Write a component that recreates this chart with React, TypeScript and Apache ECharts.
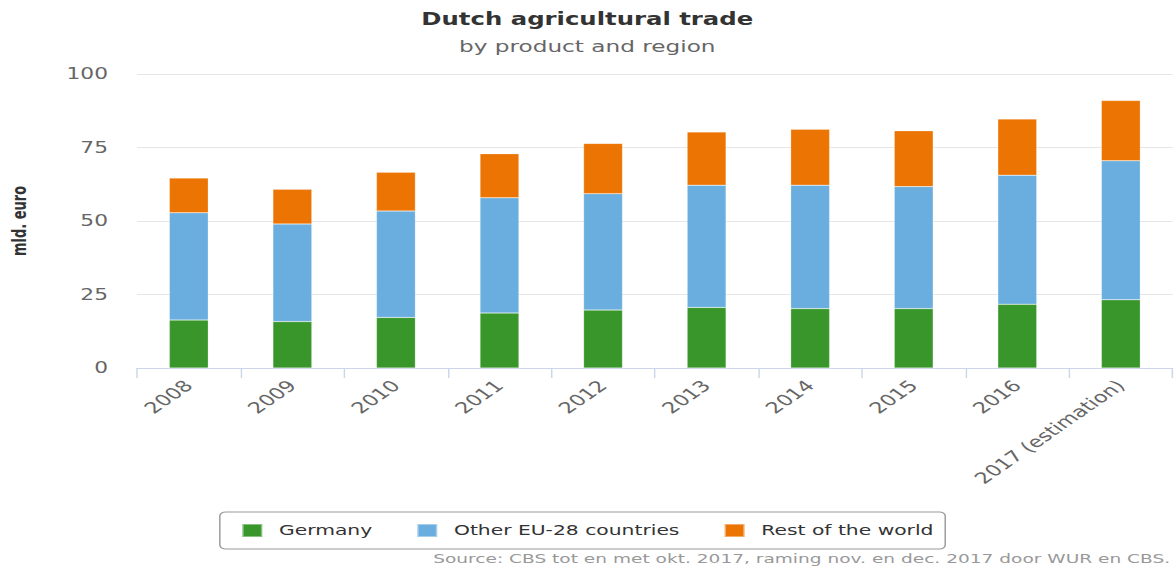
import React, { useEffect, useRef } from "react";
import * as echarts from "echarts";

const categories = ["2008", "2009", "2010", "2011", "2012", "2013", "2014", "2015", "2016", "2017 (estimation)"];
const germany = [16.3, 15.8, 17.2, 18.7, 19.7, 20.6, 20.2, 20.2, 21.7, 23.2];
const otherEU = [36.5, 33.2, 36.2, 39.2, 39.6, 41.6, 42.0, 41.5, 43.9, 47.3];
const restWorld = [11.8, 11.8, 13.2, 15.0, 17.1, 18.1, 19.0, 19.0, 19.1, 20.5];
const seriesNames = ["Germany", "Other EU-28 countries", "Rest of the world"];
const yTicks = [0, 25, 50, 75, 100];

const SX = 1.45;
const PAGE_W = 1175;
const PAGE_H = 569;
const W = PAGE_W / SX;
const FONT = "'DejaVu Sans', Verdana, sans-serif";

export default function App() {
  const ref = useRef<HTMLDivElement>(null);
  useEffect(() => {
    if (!ref.current) return;
    const chart = echarts.init(ref.current, undefined, { renderer: "svg" });
    const colors = ["#38962b", "#69aede", "#ec7402"];
    const values = [germany, otherEU, restWorld];
    chart.setOption({
      animation: false,
      textStyle: { fontFamily: FONT },
      title: {
        text: "Dutch agricultural trade",
        subtext: "by product and region",
        left: "center",
        top: 6,
        itemGap: 11,
        textStyle: { fontFamily: FONT, fontSize: 16.8, fontWeight: "bold", color: "#333" },
        subtextStyle: { fontFamily: FONT, fontSize: 16, color: "#666" },
      },
      legend: {
        data: seriesNames,
        left: "center",
        top: 512,
        icon: "rect",
        itemWidth: 13.8,
        itemHeight: 13,
        itemGap: 30,
        padding: [11, 8, 11, 14.5],
        borderColor: "#999",
        borderWidth: 1,
        borderRadius: 4,
        textStyle: { fontFamily: FONT, fontSize: 14, color: "#333", padding: [0, 0, 0, 6.5] },
      },
      grid: { left: 94.5, right: 1.3, top: 74, bottom: 201, containLabel: false },
      xAxis: {
        type: "category",
        data: categories,
        axisLine: { lineStyle: { color: "#ccd6eb", width: 1 } },
        axisTick: { show: true, length: 10, lineStyle: { color: "#ccd6eb" } },
        axisLabel: { rotate: 45, margin: 15, color: "#666", fontSize: 15.5, fontFamily: FONT, interval: 0 },
      },
      yAxis: {
        type: "value",
        min: yTicks[0],
        max: yTicks[yTicks.length - 1],
        interval: 25,
        axisLine: { show: false },
        axisTick: { show: false },
        splitLine: { lineStyle: { color: "#e6e6e6", width: 1 } },
        axisLabel: { margin: 20, color: "#666", fontSize: 15, fontFamily: FONT },
      },
      graphic: [
        {
          type: "text",
          x: 13.8,
          y: 221,
          rotation: Math.PI / 2,
          style: {
            text: "mld. euro",
            fontFamily: FONT,
            fontSize: 13,
            fontWeight: "bold",
            fill: "#333",
            align: "center",
            verticalAlign: "middle",
          },
        },
        {
          type: "text",
          right: 3,
          top: 552,
          style: {
            text: "Source: CBS tot en met okt. 2017, raming nov. en dec. 2017 door WUR en CBS.",
            fontFamily: FONT,
            fontSize: 12.8,
            fill: "#999",
          },
        },
      ],
      series: seriesNames.map((name, i) => ({
        name,
        type: "bar",
        stack: "total",
        barWidth: 27,
        data: values[i],
        itemStyle: { color: colors[i], borderColor: "rgba(255,255,255,0.4)", borderWidth: 0.5 },
      })),
    });
    return () => chart.dispose();
  }, []);
  return (
    <div
      style={{
        position: "fixed",
        left: 0,
        top: 0,
        width: W,
        height: PAGE_H,
        transform: `scaleX(${SX})`,
        transformOrigin: "0 0",
        background: "#fff",
      }}
    >
      <div ref={ref} style={{ width: W, height: PAGE_H }} />
    </div>
  );
}
